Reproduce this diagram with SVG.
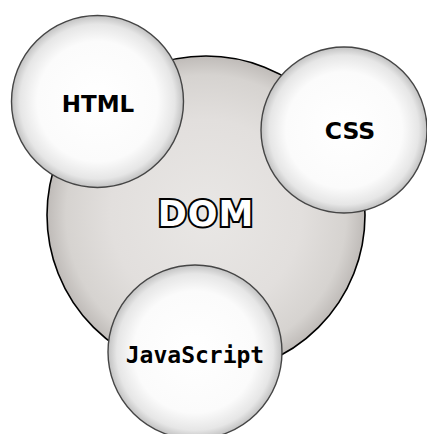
<svg xmlns="http://www.w3.org/2000/svg" width="427" height="434" viewBox="0 0 427 434">
  <defs>
    <radialGradient id="domFill" cx="0.5" cy="0.5" r="0.5">
      <stop offset="0" stop-color="#e9e7e5"/>
      <stop offset="0.6" stop-color="#e2dfdd"/>
      <stop offset="0.88" stop-color="#d6d3d0"/>
      <stop offset="1" stop-color="#bfbbb8"/>
    </radialGradient>
    <radialGradient id="bubbleFill" cx="0.5" cy="0.5" r="0.5">
      <stop offset="0" stop-color="#ffffff"/>
      <stop offset="0.7" stop-color="#fbfbfb"/>
      <stop offset="0.9" stop-color="#e6e6e6"/>
      <stop offset="1" stop-color="#c2c2c2"/>
    </radialGradient>
  </defs>
  <style>
    .bubble { fill: url(#bubbleFill); stroke: #454545; stroke-width: 1.4; }
    .label { font-family: "DejaVu Sans", Verdana, sans-serif; font-weight: bold; fill: #000; text-anchor: middle; }
    .mono { font-family: "DejaVu Sans Mono", "Liberation Mono", monospace; font-weight: bold; fill: #000; text-anchor: middle; }
  </style>
  <rect width="427" height="434" fill="#ffffff"/>

  <g id="dom">
    <circle cx="206" cy="215" r="159" fill="url(#domFill)" stroke="#000" stroke-width="1.6"/>
    <text x="206" y="226" font-family="'DejaVu Sans', Verdana, sans-serif" font-weight="bold" font-size="35" letter-spacing="1" text-anchor="middle" fill="#ffffff" stroke="#000" stroke-width="4" paint-order="stroke" stroke-linejoin="miter">DOM</text>
  </g>

  <g id="connectors"></g>

  <g id="html">
    <circle class="bubble" cx="97.5" cy="101.5" r="86"/>
    <text class="label" x="98" y="112" font-size="23">HTML</text>
  </g>

  <g id="css">
    <circle class="bubble" cx="344" cy="130" r="83"/>
    <text class="label" x="350" y="139" font-size="23.5">CSS</text>
  </g>

  <g id="javascript">
    <circle class="bubble" cx="195" cy="352" r="87"/>
    <text class="mono" x="195" y="363" font-size="23">JavaScript</text>
  </g>
</svg>
